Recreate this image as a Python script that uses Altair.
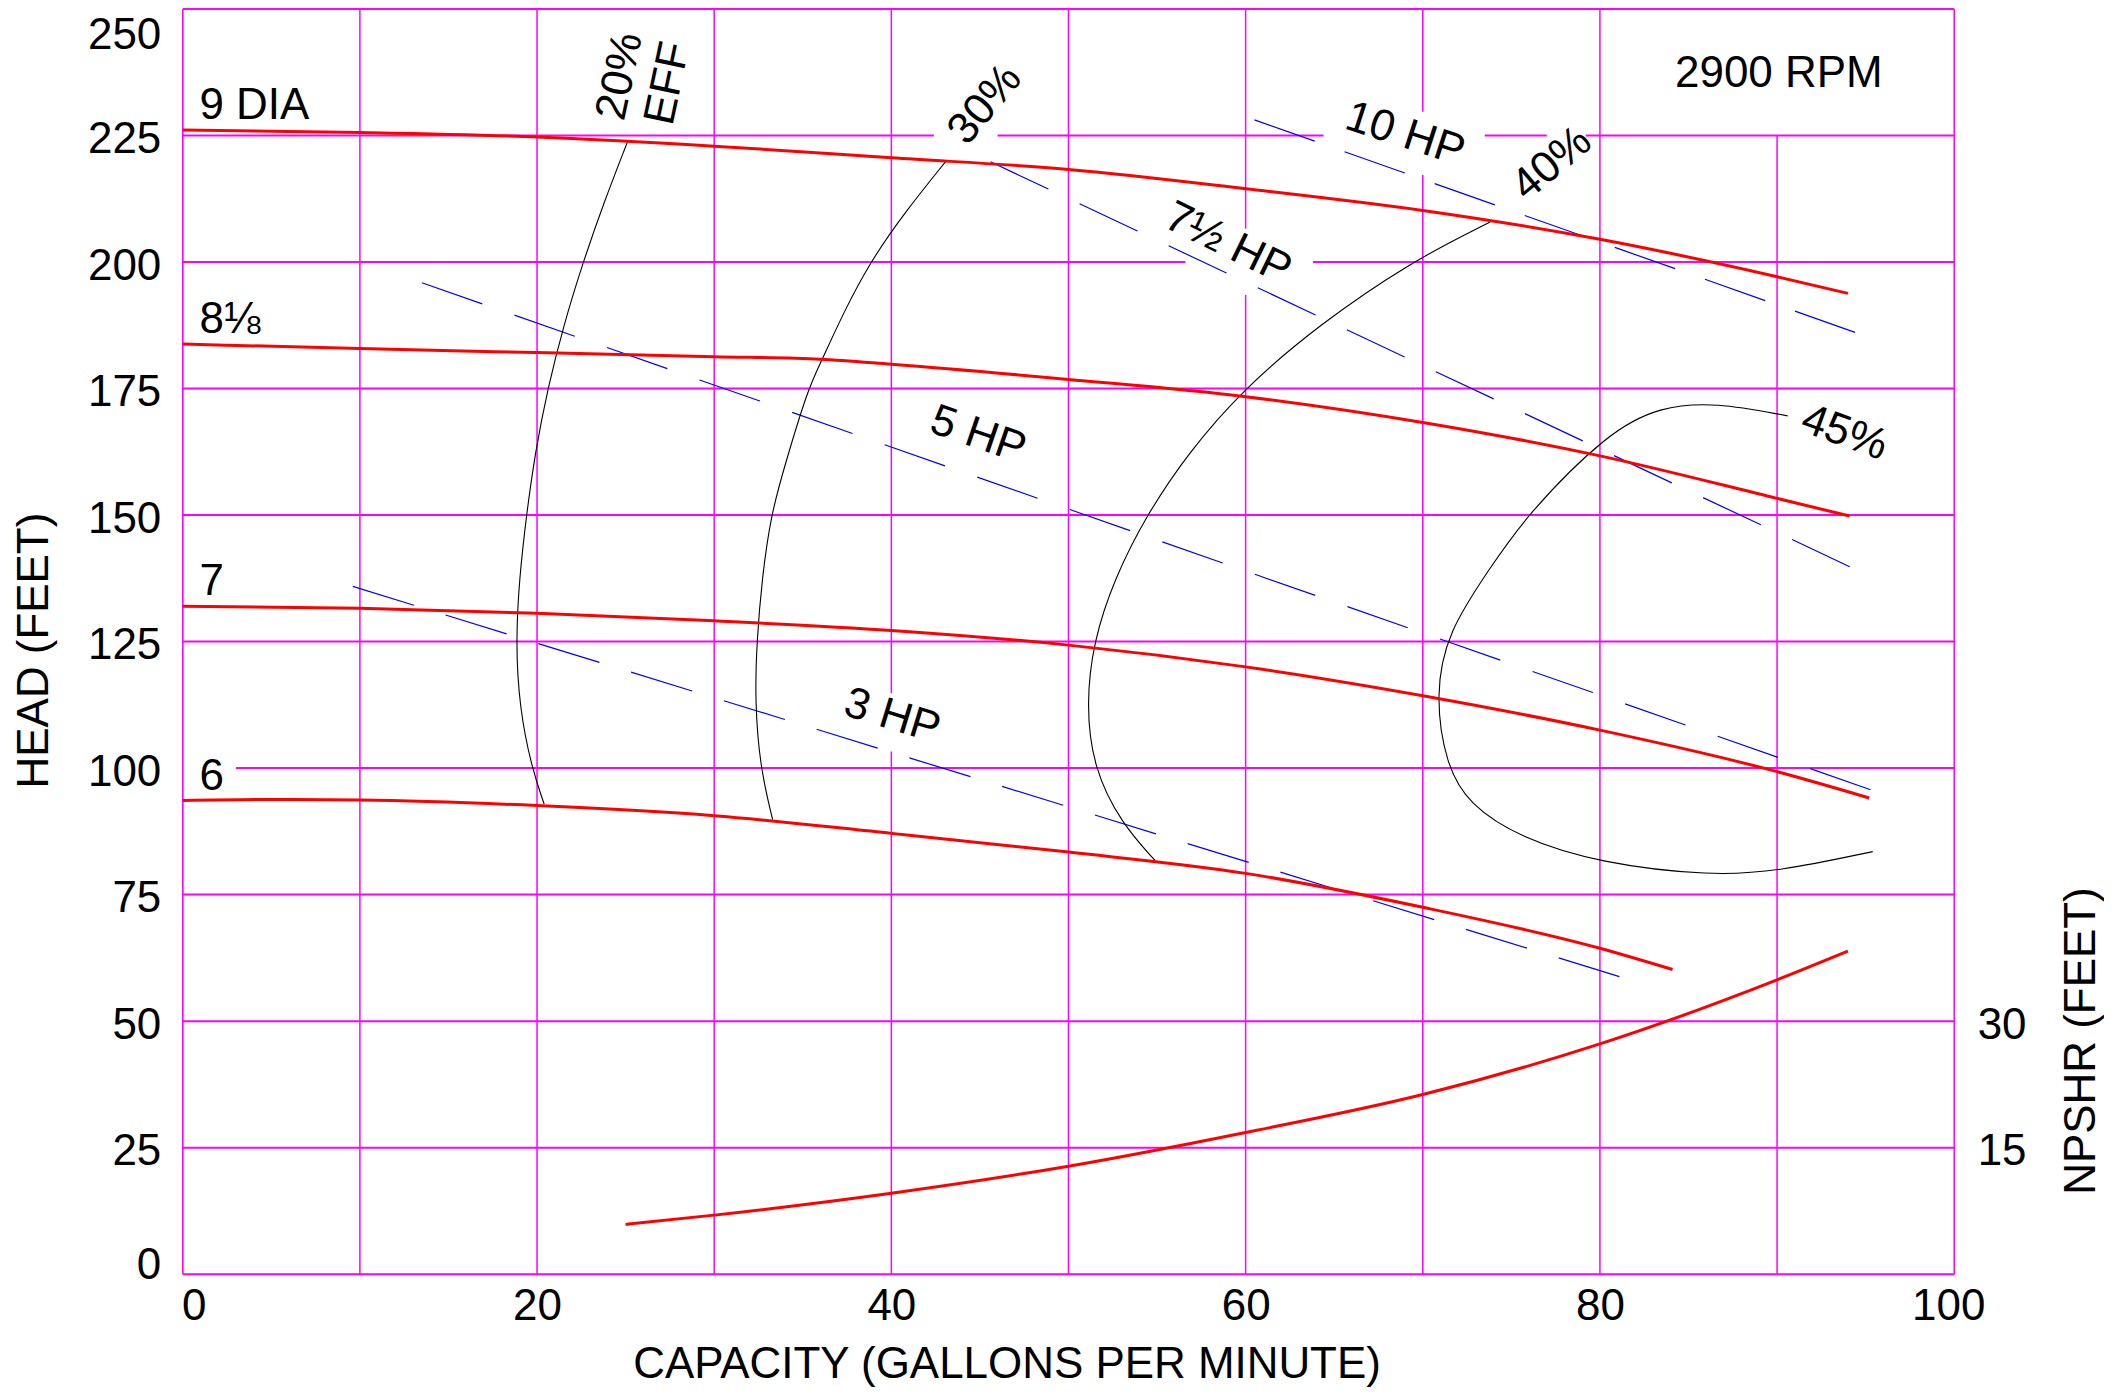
import altair as alt
import pandas as pd

FONT = "Liberation Sans"
FS = 44

# ---------------- data (capacity in GPM, head in feet) ----------------
dia9_q = [0, 10, 20, 30, 40, 50, 60, 70, 80, 90, 94]
dia9_h = [226.1, 225.6, 224.7, 222.9, 220.6, 218.3, 214.5, 210.2, 204.5, 197.1, 193.8]

dia818_q = [0, 10, 20, 30, 36, 40, 50, 60, 70, 80, 90, 94.1]
dia818_h = [183.8, 182.9, 182.1, 181.3, 180.8, 179.8, 176.8, 173.4, 168.3, 161.7, 153.3, 149.8]

dia7_q = [0, 10, 20, 30, 40, 50, 60, 70, 80, 90, 95.2]
dia7_h = [132.0, 131.6, 130.6, 129.1, 127.2, 124.3, 120.0, 114.3, 107.5, 99.3, 94.1]

dia6_q = [0, 5, 10, 20, 30, 40, 50, 60, 70, 80, 84.1]
dia6_h = [93.6, 93.8, 93.7, 92.6, 90.6, 87.1, 83.4, 79.2, 72.5, 64.4, 60.2]

# NPSHR curve (NPSHR feet, right axis)
npshr_q = [25.0, 30, 40, 50, 60, 70, 80, 90, 94.0]
npshr_v = [5.9, 7.0, 9.6, 12.8, 16.8, 21.3, 27.3, 34.9, 38.3]

# efficiency curves
eff20_q = [25.1, 23.8, 22.6, 21.5, 20.6, 19.9, 19.4, 19.0, 18.8, 19.0, 19.7, 20.4]
eff20_h = [223.7, 212.0, 200.0, 187.5, 175.0, 162.5, 150.0, 137.5, 125.0, 112.0, 100.0, 92.9]

eff30_q = [43.1, 40.8, 38.8, 37.3, 36.0, 35.3, 34.0, 33.2, 32.7, 32.4, 32.3, 32.6, 33.3]
eff30_h = [220.0, 210.0, 200.0, 190.0, 180.0, 175.0, 160.0, 150.0, 137.5, 125.0, 113.0, 100.0, 89.8]

eff40_q = [73.8, 69.3, 64.1, 59.9, 56.8, 54.4, 52.6, 51.4, 51.0, 51.4, 53.0, 54.9]
eff40_h = [207.9, 200.0, 187.5, 175.0, 162.5, 150.0, 137.5, 125.0, 112.5, 100.0, 89.0, 81.7]

eff45_q = [90.6, 86.5, 83.4, 80.5, 75.8, 73.8, 71.4, 70.7, 71.3, 72.6, 75.5, 80.0, 86.3, 90.1, 95.4]
eff45_h = [169.6, 172.3, 171.4, 166.5, 149.8, 139.5, 127.0, 114.5, 100.7, 92.8, 86.2, 81.2, 78.7, 79.6, 83.5]

# horsepower lines (start, end) and their dash gaps
hp_names = ["3 HP", "5 HP", "7.5 HP", "10 HP"]
hp_q1 = [9.6, 13.5, 45.6, 60.5]
hp_h1 = [135.9, 195.9, 219.8, 228.1]
hp_q2 = [81.1, 95.3, 94.1, 94.4]
hp_h2 = [58.8, 95.7, 139.8, 186.1]
hp_dash = [[64, 33.2], [64, 34.2], [64, 34.6], [64, 31.7]]

# grid segments
hgrid_h = [0, 25, 50, 75, 100, 125, 150, 175, 200, 200, 225, 225, 225, 225, 250]
hgrid_q1 = [0, 0, 0, 0, 3.0, 0, 0, 0, 0, 63.8, 0, 46.0, 73.5, 79.2, 0]
hgrid_q2 = [100, 100, 100, 100, 100, 100, 100, 100, 56.6, 100, 42.4, 64.4, 77.0, 100, 100]

vgrid_q = [0, 10, 20, 30, 40, 40, 50, 60, 60, 70, 70, 80, 90, 100]
vgrid_h1 = [0, 0, 0, 0, 0, 114.8, 0, 0, 206.6, 0, 229.7, 0, 0, 0]
vgrid_h2 = [250, 250, 250, 250, 103.3, 250, 250, 193.5, 250, 217.2, 250, 250, 225, 250]

# text labels
lab_text = ["2900 RPM", "10 HP", "7½ HP", "5 HP", "3 HP", "20%", "EFF", "30%", "40%", "45%"]
lab_q = [90.1, 69.0, 59.0, 44.9, 40.05, 24.7, 27.4, 45.3, 77.3, 93.8]
lab_h = [237.2, 225.2, 203.6, 165.8, 110.2, 236.7, 235.3, 231.1, 219.4, 166.2]
lab_angle = [0, 18, 26, 19, 17, 282, 282, 310, 320, 20]

dia_text = ["9 DIA", "8⅛", "7", "6"]
dia_q = [0.94, 0.94, 0.94, 0.94]
dia_h = [231.2, 189.0, 137.2, 98.7]

# ---------------- build tables ----------------
def curve(name, qs, hs):
    return pd.DataFrame({"name": name, "q": qs, "h": hs, "i": list(range(len(qs)))})

red_df = pd.concat([curve("9", dia9_q, dia9_h), curve("8 1/8", dia818_q, dia818_h),
                    curve("7", dia7_q, dia7_h), curve("6", dia6_q, dia6_h)])
eff_df = pd.concat([curve("20", eff20_q, eff20_h), curve("30", eff30_q, eff30_h),
                    curve("40", eff40_q, eff40_h), curve("45", eff45_q, eff45_h)])
hp_df = pd.concat([curve(n, [a, b], [c, d]) for n, a, c, b, d in zip(hp_names, hp_q1, hp_h1, hp_q2, hp_h2)])
npshr_df = pd.DataFrame({"q": npshr_q, "v": npshr_v})
hgrid_df = pd.DataFrame({"h": hgrid_h, "q1": hgrid_q1, "q2": hgrid_q2})
vgrid_df = pd.DataFrame({"q": vgrid_q, "h1": vgrid_h1, "h2": vgrid_h2})
lab_df = pd.DataFrame({"t": lab_text, "q": lab_q, "h": lab_h, "a": lab_angle})
dia_df = pd.DataFrame({"t": dia_text, "q": dia_q, "h": dia_h})

# ---------------- scales & axes ----------------
xscale = alt.Scale(domain=[0, 100], nice=False, zero=False)
yscale = alt.Scale(domain=[0, 250], nice=False, zero=False)

xaxis = alt.Axis(
    values=[0, 20, 40, 60, 80, 100], title="CAPACITY (GALLONS PER MINUTE)",
    grid=False, domain=False, ticks=False, tickSize=0, labelPadding=10, labelFlush=False,
    labelFont=FONT, labelFontSize=FS, labelColor="black",
    labelOffset={"condition": [{"test": "datum.value == 0", "value": 11},
                               {"test": "datum.value == 100", "value": -6}], "value": 0},
    titleFont=FONT, titleFontSize=FS, titleFontWeight="normal", titleColor="black",
    titleX=825, titleY=103, titleBaseline="alphabetic", titleAlign="center",
)
yaxis = alt.Axis(
    values=[0, 25, 50, 75, 100, 125, 150, 175, 200, 225, 250], title="HEAD (FEET)",
    grid=False, domain=False, ticks=False, tickSize=0, labelPadding=22, labelFlush=False,
    labelFont=FONT, labelFontSize=FS, labelColor="black",
    labelOffset={"condition": [{"test": "datum.value == 250", "value": 27},
                               {"test": "datum.value == 0", "value": -9}], "value": 4},
    titleFont=FONT, titleFontSize=FS, titleFontWeight="normal", titleColor="black",
    titleAngle=270, titleX=-135, titleY=642, titleBaseline="alphabetic", titleAlign="center",
)
raxis = alt.Axis(
    orient="right", values=[15, 30], title="NPSHR (FEET)",
    grid=False, domain=False, ticks=False, tickSize=0, labelPadding=23, labelFlush=False,
    labelFont=FONT, labelFontSize=FS, labelColor="black", labelOffset=4,
    titleFont=FONT, titleFontSize=FS, titleFontWeight="normal", titleColor="black",
    titleAngle=270, titleX=140, titleY=1033, titleBaseline="alphabetic", titleAlign="center",
)

X = lambda f: alt.X(f, type="quantitative", scale=xscale, axis=xaxis)
Y = lambda f: alt.Y(f, type="quantitative", scale=yscale, axis=yaxis)

hgrid = alt.Chart(hgrid_df).mark_rule(color="#FF00FF", strokeWidth=2).encode(
    x=X("q1"), x2="q2", y=Y("h"))
vgrid = alt.Chart(vgrid_df).mark_rule(color="#FF00FF", strokeWidth=1.5).encode(
    x=X("q"), y=Y("h1"), y2="h2")
hp = alt.Chart(hp_df).mark_line(color="#0000FF", strokeWidth=1.2).encode(
    x=X("q"), y=Y("h"), detail="name:N", order="i:Q",
    strokeDash=alt.StrokeDash("name:N", scale=alt.Scale(domain=hp_names, range=hp_dash), legend=None))
eff = alt.Chart(eff_df).mark_line(color="black", strokeWidth=1.1, interpolate="basis").encode(
    x=X("q"), y=Y("h"), detail="name:N", order="i:Q")
red = alt.Chart(red_df).mark_line(color="#FF0000", strokeWidth=3, interpolate="monotone").encode(
    x=X("q"), y=Y("h"), detail="name:N", order="i:Q")
labels = alt.Chart(lab_df).mark_text(font=FONT, fontSize=FS, color="black", align="center",
                                     baseline="middle").encode(
    x=X("q"), y=Y("h"), text="t:N", angle=alt.Angle("a:Q", scale=None))
dlabels = alt.Chart(dia_df).mark_text(font=FONT, fontSize=FS, color="black", align="left",
                                      baseline="middle", dy=2).encode(
    x=X("q"), y=Y("h"), text="t:N")

head_layer = alt.layer(hgrid, vgrid, hp, eff, red, labels, dlabels)

npshr = alt.Chart(npshr_df).mark_line(color="#FF0000", strokeWidth=3, interpolate="monotone").encode(
    x=X("q"),
    y=alt.Y("v", type="quantitative", scale=alt.Scale(domain=[0, 150], nice=False, zero=False), axis=raxis),
)

chart = alt.layer(head_layer, npshr).resolve_scale(y="independent").properties(
    width=1774, height=1267,
    autosize=alt.AutoSizeParams(type="none"),
    padding={"left": 175, "top": 0, "right": 150, "bottom": 115},
).configure_view(stroke=None).configure(background="white")

chart.save("out.html", embed_options={"renderer": "svg", "actions": False})
